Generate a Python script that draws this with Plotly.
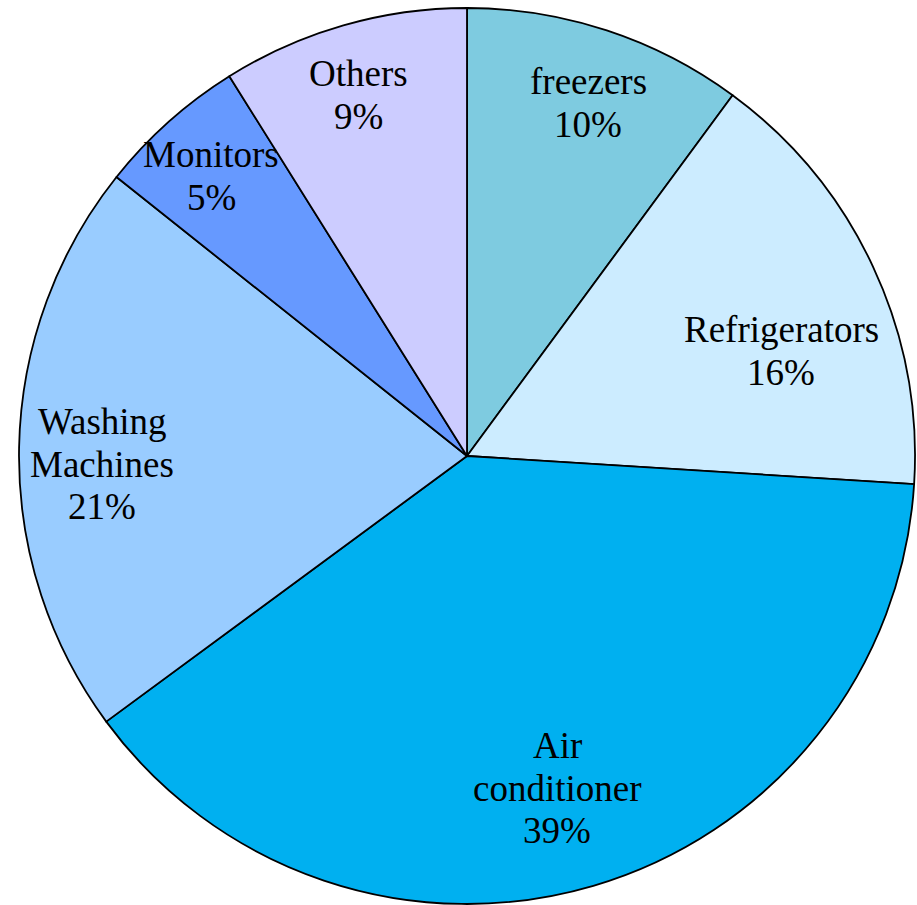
import plotly.graph_objects as go

# slice data, clockwise from 12 o'clock
categories = ["freezers", "Refrigerators", "Air conditioner", "Washing Machines", "Monitors", "Others"]
shares = [10.1, 15.9, 38.9, 20.8, 5.4, 8.9]
colors = ["#7ECBE0", "#CCECFF", "#00B0F0", "#99CCFF", "#6699FF", "#CCCCFF"]

# how each label is broken into lines
label_lines = [["freezers"], ["Refrigerators"], ["Air", "conditioner"],
               ["Washing", "Machines"], ["Monitors"], ["Others"]]
# label block centres in pixels (x, y from top)
label_pos = [(588, 103), (781, 351), (557, 788), (102, 464), (211, 176), (358, 95)]

W, H = 917, 905
LINE_H = 42.5

fig = go.Figure()
fig.add_trace(go.Pie(
    labels=categories,
    values=shares,
    sort=False,
    direction="clockwise",
    rotation=0,
    marker=dict(colors=colors, line=dict(color="black", width=1.8)),
    textinfo="none",
    hoverinfo="label+percent",
    domain=dict(x=[19 / W, 915 / W], y=[1 / H, 897 / H]),
    showlegend=False,
))

total = sum(shares)
annotations = []
for lines, (px, py), v in zip(label_lines, label_pos, shares):
    all_lines = lines + [f"{round(v / total * 100)}%"]
    n = len(all_lines)
    for i, txt in enumerate(all_lines):
        cy = py + (i - (n - 1) / 2) * LINE_H
        annotations.append(dict(
            x=px / W, y=1 - cy / H, xref="paper", yref="paper",
            text=txt, showarrow=False, xanchor="center", yanchor="middle",
            font=dict(family="Liberation Serif, Times New Roman, serif", size=37, color="black"),
        ))

fig.update_layout(
    width=W, height=H,
    margin=dict(l=0, r=0, t=0, b=0),
    paper_bgcolor="white",
    plot_bgcolor="white",
    annotations=annotations,
)

# drop the default page margin so the figure sits at the window corner
fig.write_html("out.html", config={"displayModeBar": False},
               post_script="document.body.style.margin='0';")
